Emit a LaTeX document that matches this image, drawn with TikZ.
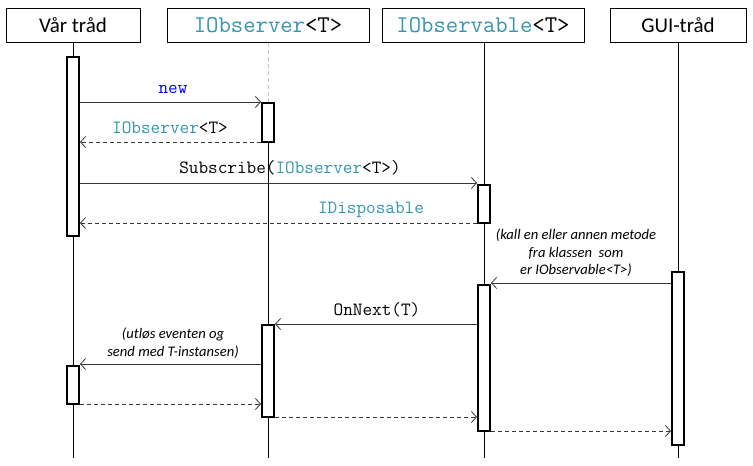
\documentclass[tikz,border=0pt]{standalone}
\usepackage{fontspec}
\setmainfont{Carlito}
\usetikzlibrary{arrows.meta}
\definecolor{vsteal}{RGB}{52,150,175}
\definecolor{vsblue}{RGB}{0,0,255}
\definecolor{msggray}{RGB}{55,55,55}
\begin{document}
\begin{tikzpicture}[x=1pt,y=-1pt,
  header/.style={draw, line width=0.8pt, inner sep=0, minimum height=34, font=\fontsize{21}{24}\selectfont},
  monohead/.style={header, font=\ttfamily\fontsize{24}{26}\selectfont},
  act/.style={draw, line width=2pt, fill=white, inner sep=0, minimum width=12, anchor=north},
  lifeline/.style={line width=0.8pt},
  msg/.style={draw=msggray, line width=0.8pt, -{Straight Barb[length=5pt,width=11pt,line width=0.8pt]}},
  ret/.style={msg, dash pattern=on 4pt off 3pt},
  lbl/.style={anchor=base, inner sep=0, font=\ttfamily\fontsize{18.7}{20}\selectfont},
  note/.style={inner sep=0, align=center, font=\itshape\fontsize{14.6}{17.5}\selectfont},
]
\fill[white] (0,0) rectangle (753,466);
\useasboundingbox (0,0) rectangle (753,466);

% headers
\node[header, minimum width=134] (hA) at (73,25) {Vår tråd};
\node[monohead, minimum width=202] (hB) at (268,25.5) {\textcolor{vsteal}{IObserver}<T>};
\node[monohead, minimum width=202] (hC) at (483,25.5) {\textcolor{vsteal}{IObservable}<T>};
\node[header, minimum width=136] (hD) at (678,25.5) {GUI-tråd};

% lifeline ends
\coordinate (eA) at (73,458);
\coordinate (eB) at (268,458);
\coordinate (eC) at (484,458);
\coordinate (eD) at (678,458);

% activation boxes (positions)
\coordinate (pa1) at (73,56);
\coordinate (pa2) at (73,365);
\coordinate (pb1) at (268,102);
\coordinate (pb2) at (268,324);
\coordinate (pc1) at (484,184);
\coordinate (pc2) at (484,284);
\coordinate (pd1) at (678,271);

% lifelines
\draw[lifeline] (hA.south) -- (eA);
\draw[gray!45, line width=0.6pt, dash pattern=on 4pt off 3pt] (hB.south) -- (pb1);
\draw[lifeline] (pb1) -- (eB);
\draw[lifeline] (hC.south -| eC) -- (eC);
\draw[lifeline] (hD.south) -- (eD);

% activations
\node[act, minimum height=179] (a1) at (pa1) {};
\node[act, minimum height=38] (a2) at (pa2) {};
\node[act, minimum height=39] (b1) at (pb1) {};
\node[act, minimum height=92] (b2) at (pb2) {};
\node[act, minimum height=38] (c1) at (pc1) {};
\node[act, minimum height=146] (c2) at (pc2) {};
\node[act, minimum height=173] (d1) at (pd1) {};

% messages
\draw[msg] (a1.east |- 0,102) -- (b1.west |- 0,102);
\draw[ret] (b1.west |- 0,142) -- (a1.east |- 0,142);
\draw[msg] (a1.east |- 0,183) -- (c1.west |- 0,183);
\draw[ret] (c1.west |- 0,223) -- (a1.east |- 0,223);
\draw[msg] (d1.west |- 0,283) -- (c2.east |- 0,283);
\draw[msg] (c2.west |- 0,324) -- (b2.east |- 0,324);
\draw[msg] (b2.west |- 0,364) -- (a2.east |- 0,364);
\draw[ret] (a2.east |- 0,404) -- (b2.west |- 0,404);
\draw[ret] (b2.east |- 0,417) -- (c2.west |- 0,417);
\draw[ret] (c2.east |- 0,431) -- (d1.west |- 0,431);

% labels
\node[lbl, text=vsblue] (tnew) at (173,93) {new};
\node[lbl] (tret1) at (170,133) {\textcolor{vsteal}{IObserver}<T>};
\node[lbl] (tsub) at (290,173) {Subscribe(\textcolor{vsteal}{IObserver}<T>)};
\node[lbl, text=vsteal] (tdisp) at (371,213) {IDisposable};
\node[lbl] (tnext) at (377,315) {OnNext(T)};
\node[note] (tkall) at (576,253) {(kall en eller annen metode\\fra klassen\ \ som\\er IObservable<T>)};
\node[note] (tutl) at (173,343) {(utløs eventen og\\send med T-instansen)};
\end{tikzpicture}
\end{document}
